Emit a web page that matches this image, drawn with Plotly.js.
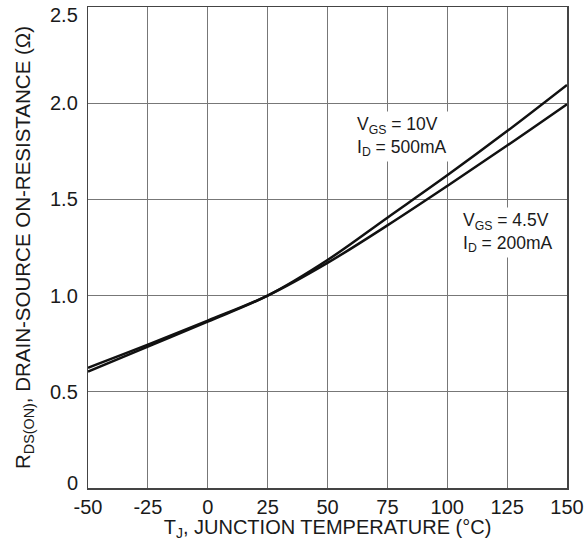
<!DOCTYPE html>
<html><head><meta charset="utf-8">
<script src="https://cdn.plot.ly/plotly-3.0.1.min.js"></script>
<style>html,body{margin:0;padding:0;background:#fff}</style>
</head><body>
<div id="chart" style="width:588px;height:541px"></div>
<script>
var tempC = [-50, -25, 0, 25, 50, 75, 100, 125, 150];
var rds10V = [0.605, 0.735, 0.865, 1.0, 1.185, 1.405, 1.625, 1.855, 2.095];
var rds45V = [0.625, 0.745, 0.870, 1.0, 1.170, 1.365, 1.57, 1.78, 1.995];
var xTicks = [-50, -25, 0, 25, 50, 75, 100, 125, 150];
var yTicks = [0, 0.5, 1.0, 1.5, 2.0, 2.5];
var yTickText = ['0', '0.5', '1.0', '1.5', '2.0', '2.5'];

var font = 'Liberation Sans, Arial, sans-serif';
var yMin = 0, yMax = 2.5;
var traces = [
  {x: tempC, y: rds10V, mode: 'lines', line: {color: '#111', width: 2.5, shape: 'spline'}, hoverinfo: 'skip'},
  {x: tempC, y: rds45V, mode: 'lines', line: {color: '#111', width: 2.5, shape: 'spline'}, hoverinfo: 'skip'}
];

// y tick labels drawn as annotations so the end labels can sit inside the figure
var yLabelAnns = yTicks.map(function (v, i) {
  var shift = 0;
  if (v === yMax) shift = -8;
  if (v === yMin) shift = 5;
  return {x: 0, xref: 'paper', y: v, yref: 'y', xanchor: 'right', yanchor: 'middle',
          xshift: -8, yshift: shift, text: yTickText[i], showarrow: false,
          font: {size: 20, family: font, color: '#1a1a1a'}};
});

var layout = {
  width: 588, height: 541,
  margin: {l: 88, r: 21, t: 7, b: 53},
  showlegend: false,
  paper_bgcolor: '#fff', plot_bgcolor: '#fff',
  font: {family: font, color: '#1a1a1a', size: 20},
  xaxis: {
    range: [-50, 150], tickvals: xTicks, ticktext: xTicks.map(String),
    showgrid: true, gridcolor: '#777', gridwidth: 1, zeroline: false,
    showline: true, linecolor: '#444', linewidth: 1.5, mirror: true,
    ticks: '', tickfont: {size: 20, family: font}, ticklabelstandoff: 0,
    title: {text: 'T<sub>J</sub>, JUNCTION TEMPERATURE (°C)', font: {size: 20, family: font}, standoff: 2}
  },
  yaxis: {
    range: [yMin, yMax], tickvals: yTicks, showticklabels: false,
    showgrid: true, gridcolor: '#777', gridwidth: 1, zeroline: false,
    showline: true, linecolor: '#444', linewidth: 1.5, mirror: true,
    ticks: '',
    title: {text: 'R<sub>DS(ON)</sub>, DRAIN-SOURCE ON-RESISTANCE (Ω)', font: {size: 20.5, family: font}, standoff: 50}
  },
  annotations: [
    {x: 61, y: 1.96, xref: 'x', yref: 'y', xanchor: 'left', yanchor: 'top', align: 'left',
     text: 'V<sub>GS</sub> = 10V<br>I<sub>D</sub> = 500mA', showarrow: false,
     font: {size: 17.5, family: font, color: '#1a1a1a'}, bgcolor: '#fff', borderpad: 2},
    {x: 105.5, y: 1.46, xref: 'x', yref: 'y', xanchor: 'left', yanchor: 'top', align: 'left',
     text: 'V<sub>GS</sub> = 4.5V<br>I<sub>D</sub> = 200mA', showarrow: false,
     font: {size: 17.5, family: font, color: '#1a1a1a'}, bgcolor: '#fff', borderpad: 2}
  ].concat(yLabelAnns)
};
Plotly.newPlot('chart', traces, layout, {staticPlot: true, displayModeBar: false});
</script>
</body></html>
